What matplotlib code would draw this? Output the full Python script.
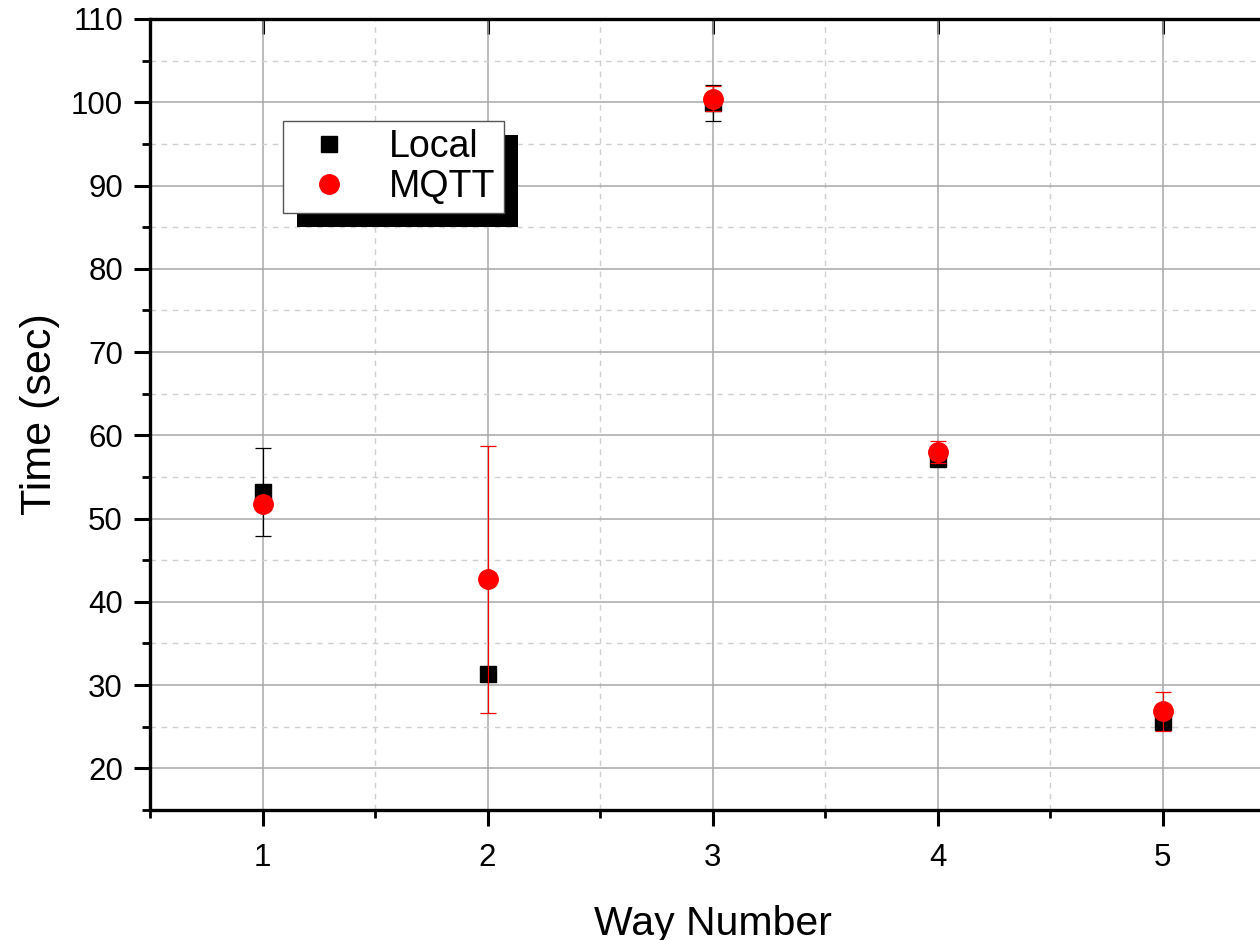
import matplotlib
matplotlib.use('Agg')
import matplotlib.pyplot as plt
from matplotlib.lines import Line2D
from matplotlib.patches import Rectangle

plt.rcParams['font.family'] = ['Liberation Sans', 'DejaVu Sans']

way_number = [1, 2, 3, 4, 5]
local_time = [53.2, 31.3, 99.9, 57.2, 25.6]
local_err = [5.25, 0.5, 2.2, 0.8, 0.8]
mqtt_time = [51.7, 42.7, 100.4, 58.0, 26.85]
mqtt_err = [0.6, 16.05, 1.5, 1.3, 2.35]

y_major = list(range(20, 111, 10))
y_minor = list(range(15, 111, 10))
x_minor = [0.5, 1.5, 2.5, 3.5, 4.5, 5.5]

fig = plt.figure(figsize=(12.6, 9.4), dpi=100)
ax = fig.add_axes([150 / 1260, 1 - 810 / 940, 1125 / 1260, 791 / 940])

ax.errorbar(way_number, local_time, yerr=local_err, fmt='s', color='black', ms=12,
            ecolor='black', elinewidth=0.9, capsize=6, capthick=0.9, zorder=3)
ax.errorbar(way_number, mqtt_time, yerr=mqtt_err, fmt='o', color='red', ms=14,
            ecolor='red', elinewidth=0.9, capsize=6, capthick=0.9, zorder=4)

ax.set_xlim(0.5, 5.5)
ax.set_ylim(15, 110)
ax.set_xticks(way_number)
ax.set_xticks(x_minor, minor=True)
ax.set_yticks(y_major)
ax.set_yticks(y_minor, minor=True)

ax.grid(which='major', color='#a8a8a8', linewidth=1.1, linestyle='-')
ax.grid(which='minor', color='#d0d0d0', linewidth=1.0, linestyle=(0, (4, 4)))
ax.set_axisbelow(True)

for side in ['left', 'bottom', 'top', 'right']:
    ax.spines[side].set_linewidth(2.4)

ax.tick_params(which='major', direction='out', length=11.5, width=2.2, labelsize=22.5)
ax.tick_params(which='minor', direction='out', length=5.8, width=2.0)
ax.tick_params(axis='x', which='major', pad=12)
ax.tick_params(axis='y', which='major', pad=8)

top = ax.secondary_xaxis('top')
top.set_xticks(way_number)
top.tick_params(direction='in', length=11, width=2.2, labeltop=False)
right = ax.secondary_yaxis('right')
right.set_yticks(y_major)
right.tick_params(direction='in', length=11, width=2.2, labelright=False)

ax.set_xlabel('Way Number', fontsize=29.5, labelpad=23)
ax.set_ylabel('Time (sec)', fontsize=31, labelpad=8)

handles = [
    Line2D([], [], marker='s', color='black', linestyle='none', markersize=12),
    Line2D([], [], marker='o', color='red', linestyle='none', markersize=14),
]
leg = ax.legend(handles, ['Local', 'MQTT'], loc='upper left',
                bbox_to_anchor=((283 - 150) / 1125, (810 - 121) / 791),
                fontsize=27, frameon=True, fancybox=False, edgecolor='#555555',
                framealpha=1, borderpad=0.22, handletextpad=0.6, labelspacing=0.1,
                handlelength=2.0, borderaxespad=0)
leg.get_frame().set_linewidth(1.0)

fig.canvas.draw()
bb = leg.get_window_extent().transformed(fig.transFigure.inverted())
off_x = 14 / 1260
off_y = 14 / 940
shadow = Rectangle((bb.x0 + off_x, bb.y0 - off_y), bb.width, bb.height,
                   transform=fig.transFigure, facecolor='black', edgecolor='none', zorder=9)
fig.add_artist(shadow)
leg.remove()
fig.legends.append(leg)
leg.set_figure(fig)
leg.set_zorder(10)

fig.savefig('out.png', dpi=100)
